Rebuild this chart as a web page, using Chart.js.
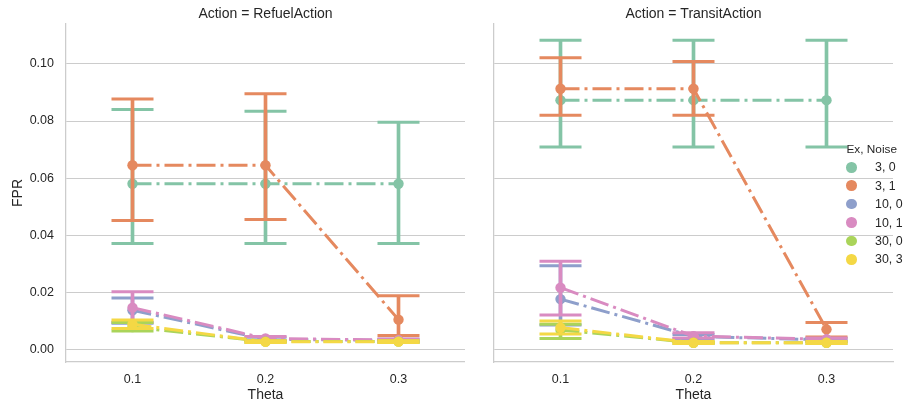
<!DOCTYPE html>
<html>
<head>
<meta charset="UTF-8">
<title>FPR by Theta</title>
<script src="https://cdn.jsdelivr.net/npm/chart.js@4.4.0/dist/chart.umd.min.js"></script>
<style>
  body { margin: 0; background: #fff; font-family: 'Liberation Sans', Arial, sans-serif; color: #262626; }
  #wrap { position: relative; width: 906px; height: 405px; overflow: hidden; }
  canvas { position: absolute; top: 0; }
  #chart1 { left: 0; }
  #chart2 { left: 465px; }
  .leg { position: absolute; font-size: 12.4px; line-height: 14px; white-space: nowrap; }
  .leg.head { font-size: 11.8px; }
  .dot { position: absolute; width: 10.5px; height: 10.5px; border-radius: 50%; }
</style>
</head>
<body>
<div id="wrap">
  <canvas id="chart1" width="465" height="405"></canvas>
  <canvas id="chart2" width="441" height="405"></canvas>
  <div id="legend"></div>
</div>

<script>
const thetas = ['0.1', '0.2', '0.3'];
const hues = ['3, 0', '3, 1', '10, 0', '10, 1', '30, 0', '30, 3'];
const colors = ['#84c4a6', '#e5895f', '#8e9fcb', '#d98bc1', '#aad45a', '#f4d845'];

// Action = RefuelAction (rows follow hues)
const refuelMean = [
  [0.0580, 0.0580, 0.0580],
  [0.0645, 0.0645, 0.0104],
  [0.0137, 0.0035, 0.0031],
  [0.0146, 0.0038, 0.0032],
  [0.0078, 0.0027, 0.0027],
  [0.0088, 0.0026, 0.0027]
];
const refuelLow = [
  [0.0371, 0.0371, 0.0371],
  [0.0451, 0.0455, 0.0048],
  [0.0091, 0.0029, 0.0026],
  [0.0095, 0.0031, 0.0027],
  [0.0064, 0.0024, 0.0024],
  [0.0073, 0.0024, 0.0024]
];
const refuelHigh = [
  [0.0840, 0.0834, 0.0796],
  [0.0877, 0.0896, 0.0188],
  [0.0180, 0.0042, 0.0035],
  [0.0202, 0.0045, 0.0036],
  [0.0094, 0.0030, 0.0030],
  [0.0103, 0.0030, 0.0030]
];

// Action = TransitAction
const transitMean = [
  [0.0873, 0.0873, 0.0873],
  [0.0913, 0.0913, 0.0070],
  [0.0176, 0.0045, 0.0033],
  [0.0216, 0.0046, 0.0035],
  [0.0068, 0.0023, 0.0023],
  [0.0076, 0.0023, 0.0023]
];
const transitLow = [
  [0.0709, 0.0709, 0.0709],
  [0.0820, 0.0820, 0.0043],
  [0.0085, 0.0038, 0.0028],
  [0.0120, 0.0040, 0.0029],
  [0.0038, 0.0020, 0.0020],
  [0.0054, 0.0020, 0.0020]
];
const transitHigh = [
  [0.1083, 0.1083, 0.1083],
  [0.1022, 0.1009, 0.0094],
  [0.0293, 0.0052, 0.0038],
  [0.0309, 0.0058, 0.0040],
  [0.0088, 0.0027, 0.0027],
  [0.0099, 0.0027, 0.0027]
];

const yTicks = [0, 0.02, 0.04, 0.06, 0.08, 0.10];

Chart.defaults.font.family = "'Liberation Sans', Arial, sans-serif";
Chart.defaults.color = '#262626';

function buildDatasets(mean, low, high) {
  const sets = [];
  hues.forEach((h, j) => {
    const base = 100 - j * 4;
    const c = colors[j];
    // joining line
    sets.push({
      type: 'line', label: h, data: mean[j], order: base,
      borderColor: c, borderWidth: 3, borderDash: [19, 5, 3, 5],
      pointRadius: 0, fill: false
    });
    // error bar
    sets.push({
      type: 'bar', label: h + ' ci', order: base - 1,
      data: thetas.map((t, i) => [low[j][i], high[j][i]]),
      backgroundColor: c, borderWidth: 0, barThickness: 3, grouped: false
    });
    // caps
    sets.push({
      type: 'line', label: h + ' caps', order: base - 2, showLine: false,
      data: thetas.flatMap((t, i) => [{ x: t, y: low[j][i] }, { x: t, y: high[j][i] }]),
      pointStyle: 'line', pointRadius: 21, pointBorderWidth: 3, pointBorderColor: c
    });
    // points
    sets.push({
      type: 'line', label: h + ' pts', order: base - 3, showLine: false,
      data: mean[j], pointRadius: 5.2, pointBorderWidth: 0,
      pointBackgroundColor: c
    });
  });
  return sets;
}

function makePanel(id, title, mean, low, high, showY, yWidth, rightPad) {
  return new Chart(document.getElementById(id), {
    type: 'bar',
    data: { labels: thetas, datasets: buildDatasets(mean, low, high) },
    options: {
      responsive: false,
      animation: false,
      events: [],
      layout: { autoPadding: false, padding: { left: 0, right: rightPad, top: 0, bottom: 0 } },
      plugins: {
        legend: { display: false },
        tooltip: { enabled: false },
        title: {
          display: true, text: title, fullSize: false, color: '#262626',
          font: { size: 14, weight: 'normal' }, padding: { top: 6, bottom: 1.2 }
        }
      },
      scales: {
        x: {
          type: 'category', offset: true,
          grid: { display: false, drawTicks: false },
          border: { display: true, color: '#cccccc', width: 1.25 },
          ticks: { color: '#262626', font: { size: 12.5 }, padding: 10.3 },
          title: { display: true, text: 'Theta', color: '#262626', font: { size: 14 }, padding: { top: 0, bottom: 1 } },
          afterFit: s => { s.height = 43; s.paddingLeft = 0; s.paddingRight = 0; }
        },
        y: {
          min: -0.00445, max: 0.114,
          afterBuildTicks: s => { s.ticks = yTicks.map(v => ({ value: v })); },
          ticks: {
            display: showY, padding: 12, color: '#262626', font: { size: 12.5 },
            callback: v => Number(v).toFixed(2)
          },
          grid: { color: '#cccccc', lineWidth: 1, drawTicks: false },
          border: { display: true, color: '#cccccc', width: 1.25 },
          title: { display: showY, text: 'FPR', color: '#262626', font: { size: 14 }, padding: { top: 9.6, bottom: 0 } },
          afterFit: s => { s.width = yWidth; s.paddingTop = 0; s.paddingBottom = 0; }
        }
      }
    }
  });
}

makePanel('chart1', 'Action = RefuelAction', refuelMean, refuelLow, refuelHigh, true, 66, 0);
makePanel('chart2', 'Action = TransitAction', transitMean, transitLow, transitHigh, false, 29, 13);

// legend
const leg = document.getElementById('legend');
const head = document.createElement('div');
head.className = 'leg head';
head.style.left = '846.5px';
head.style.top = '142px';
head.textContent = 'Ex, Noise';
leg.appendChild(head);
hues.forEach((h, j) => {
  const cy = 167.3 + j * 18.4;
  const d = document.createElement('div');
  d.className = 'dot';
  d.style.background = colors[j];
  d.style.left = (851.5 - 5.25) + 'px';
  d.style.top = (cy - 5.25) + 'px';
  leg.appendChild(d);
  const t = document.createElement('div');
  t.className = 'leg';
  t.style.left = '875px';
  t.style.top = (cy - 7) + 'px';
  t.textContent = h;
  leg.appendChild(t);
});
</script>
</body>
</html>
